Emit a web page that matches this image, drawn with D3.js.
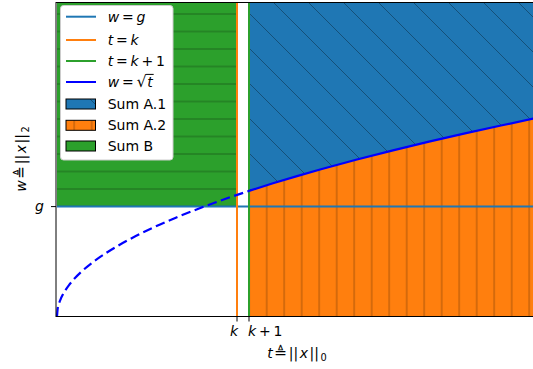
<!DOCTYPE html>
<html><head><meta charset="utf-8">
<script src="https://cdn.jsdelivr.net/npm/d3@7"></script>
<style>body{margin:0;background:#fff} svg{display:block} text{font-family:"DejaVu Sans",sans-serif}</style>
</head><body><svg id="c" width="533" height="369"></svg>
<script>
// ---- data ----
const tValues = [0,0.05,0.15,0.3,0.5,0.75,1,1.5,2,3,4,5,6,8,10,12,14,16,18,20,22,25,28,31,34,37,40];
const wValues = [0,0.224,0.387,0.548,0.707,0.866,1,1.225,1.414,1.732,2,2.236,2.449,2.828,3.162,3.464,3.742,4,4.243,4.472,4.690,5,5.292,5.568,5.831,6.083,6.325];
const kValue = 15;
const kPlusOne = 16;
const gValue = 3.5;
const tDomain = [0, 40];
const wDomain = [0, 10];
const xTickValues = [15, 16];
const xTickLabels = ["k", "k + 1"];
const yTickValues = [3.5];
const yTickLabels = ["g"];
const legendLabels = ["w = g", "t = k", "t = k + 1", "w = √t", "Sum A.1", "Sum A.2", "Sum B"];

// ---- setup ----
const C0 = "#1f77b4", C1 = "#ff7f0e", C2 = "#2ca02c", B = "#0000ff";
const svg = d3.select("#c");
const x = d3.scaleLinear(tDomain, [57, 537]);
const y = d3.scaleLinear(wDomain, [316.5, 2.5]);
const pts = tValues.map((t, i) => ({t, w: wValues[i]}));
const right = pts.filter(p => p.t >= kPlusOne);
const leftPts = pts.filter(p => p.t <= kPlusOne);

const hatchColor = "rgba(0,0,0,0.33)";
const defs = svg.append("defs");
const pD = defs.append("pattern").attr("id","hD").attr("patternUnits","userSpaceOnUse")
  .attr("x",0).attr("y",9).attr("width",35).attr("height",35);
pD.append("path").attr("d","M-1,-1L36,36M-1,34L1,36M34,-1L36,1").attr("stroke",hatchColor).attr("stroke-width",1).attr("fill","none");
const pV = defs.append("pattern").attr("id","hV").attr("patternUnits","userSpaceOnUse")
  .attr("x",4.2-8.75).attr("y",0).attr("width",17.5).attr("height",10);
pV.append("path").attr("d","M8.75,-1L8.75,11").attr("stroke",hatchColor).attr("stroke-width",1);
const pH = defs.append("pattern").attr("id","hH").attr("patternUnits","userSpaceOnUse")
  .attr("x",0).attr("y",14-8.75).attr("width",10).attr("height",17.5);
pH.append("path").attr("d","M-1,8.75L11,8.75").attr("stroke",hatchColor).attr("stroke-width",1);

// ---- fills ----
const areaTop = d3.area().curve(d3.curveMonotoneX).x(d => x(d.t)).y0(d => y(d.w)).y1(y(wDomain[1]));
const areaBot = d3.area().curve(d3.curveMonotoneX).x(d => x(d.t)).y0(y(0)).y1(d => y(d.w));
const greenData = [{t: tDomain[0]}, {t: kValue}];
const areaGreen = d3.area().x(d => x(d.t)).y0(y(gValue)).y1(y(wDomain[1]));

[[areaTop(right), C0, "hD"], [areaBot(right), C1, "hV"], [areaGreen(greenData), C2, "hH"]].forEach(([d, c, h]) => {
  svg.append("path").attr("d", d).attr("fill", c);
  svg.append("path").attr("d", d).attr("fill", `url(#${h})`);
});

// ---- lines ----
svg.append("line").attr("x1", x(tDomain[0])).attr("x2", x(tDomain[1])).attr("y1", y(gValue)).attr("y2", y(gValue))
  .attr("stroke", C0).attr("stroke-width", 2);
svg.append("line").attr("x1", x(kValue)).attr("x2", x(kValue)).attr("y1", y(0)).attr("y2", y(wDomain[1]))
  .attr("stroke", C1).attr("stroke-width", 2);
svg.append("line").attr("x1", x(kPlusOne)).attr("x2", x(kPlusOne)).attr("y1", y(0)).attr("y2", y(wDomain[1]))
  .attr("stroke", C2).attr("stroke-width", 2);
const line = d3.line().curve(d3.curveMonotoneX).x(d => x(d.t)).y(d => y(d.w));
svg.append("path").attr("d", line(leftPts)).attr("fill","none").attr("stroke",B).attr("stroke-width",2.2).attr("stroke-dasharray","9.5,4.5");
svg.append("path").attr("d", line(right)).attr("fill","none").attr("stroke",B).attr("stroke-width",2.2);

// ---- math text helper ----
// '_' -> next char subscript; '~' -> small extra gap (dx)
function addMath(sel, str) {
  let sub = false, gap = 0;
  for (let i = 0; i < str.length; i++) {
    let c = str[i];
    if (c === "_") { sub = true; continue; }
    if (c === "~") { gap += 1.5; continue; }
    const ts = sel.append("tspan");
    if (/[a-zA-Z]/.test(c)) ts.attr("font-style", "italic");
    if (c === "≜") ts.attr("font-size", 15.5);
    if (c === " ") c = "\u2009";
    if (gap) { ts.attr("dx", gap); gap = 0; }
    if (sub) { ts.attr("font-size", "70%").attr("dy", 3); sub = false; }
    ts.text(c);
  }
}

// ---- spines ----
svg.append("line").attr("x1",56).attr("x2",56).attr("y1",2).attr("y2",317).attr("stroke","#000").attr("stroke-width",1);
svg.append("line").attr("x1",56).attr("x2",537).attr("y1",316.5).attr("y2",316.5).attr("stroke","#000").attr("stroke-width",1);
svg.append("line").attr("x1",56).attr("x2",537).attr("y1",2.5).attr("y2",2.5).attr("stroke","#000").attr("stroke-width",1);

// ---- axes ----
const gx = svg.append("g").attr("transform","translate(0,316.5)")
  .call(d3.axisBottom(x).tickValues(xTickValues).tickSize(5).tickPadding(5).offset(0));
gx.select(".domain").remove();
gx.selectAll("text").each(function(d, i) {
  const s = d3.select(this).text(null).attr("font-size", 14).attr("font-family", "DejaVu Sans")
    .attr("text-anchor", i === 0 ? "end" : "start").attr("x", i === 0 ? 1 : -1);
  addMath(s, xTickLabels[i]);
});
const gy = svg.append("g").attr("transform","translate(56,0)")
  .call(d3.axisLeft(y).tickValues(yTickValues).tickSize(5).tickPadding(7).offset(0));
gy.select(".domain").remove();
gy.selectAll("text").each(function(d, i) {
  const s = d3.select(this).text(null).attr("font-size", 14).attr("font-family", "DejaVu Sans");
  addMath(s, yTickLabels[i]);
});

// axis labels
const xl = svg.append("text").attr("x", 297).attr("y", 358).attr("text-anchor","middle").attr("font-size",14);
addMath(xl, "t~≜~||~x~||~_0");
const yl = svg.append("text").attr("transform","translate(25.5,159) rotate(-90)").attr("text-anchor","middle").attr("font-size",14);
addMath(yl, "w~≜~||~x~||~_2");

// ---- legend ----
const lg = svg.append("g");
lg.append("rect").attr("x",60.5).attr("y",5.5).attr("width",112.5).attr("height",154.5).attr("rx",3)
  .attr("fill","#fff").attr("stroke","#cccccc").attr("stroke-width",1);
const rowY = [16.7, 40, 61, 82, 104, 125.3, 146];
const handles = [
  {type:"line", c:C0}, {type:"line", c:C1}, {type:"line", c:C2}, {type:"line", c:B},
  {type:"patch", c:C0, h:"hD"}, {type:"patch", c:C1, h:"hV"}, {type:"patch", c:C2, h:"hH"}
];
legendLabels.forEach((lab, i) => {
  const cy = rowY[i], hd = handles[i];
  if (hd.type === "line") {
    lg.append("line").attr("x1",66).attr("x2",96).attr("y1",cy).attr("y2",cy).attr("stroke",hd.c).attr("stroke-width",2);
  } else {
    lg.append("rect").attr("x",66).attr("y",cy-5).attr("width",29.5).attr("height",10).attr("fill",hd.c);
    lg.append("rect").attr("x",66).attr("y",cy-5).attr("width",29.5).attr("height",10).attr("fill",`url(#${hd.h})`)
      .attr("stroke","#000").attr("stroke-width",1);
  }
  const t = lg.append("text").attr("x",107.7).attr("y",cy+4.8).attr("font-size",14);
  if (i < 4) {
    if (lab.includes("√")) {
      addMath(t, "w = ");
      t.append("tspan").text("√").attr("font-size", 16);
      const L = t.node().getComputedTextLength();
      const tt = lg.append("text").attr("x",107.7+L+0.5).attr("y",cy+4.8).attr("font-size",14).attr("font-style","italic").text("t");
      const tw = tt.node().getComputedTextLength();
      lg.append("line").attr("x1",107.7+L-0.5).attr("x2",107.7+L+tw+1.5).attr("y1",cy-7.6).attr("y2",cy-7.6)
        .attr("stroke","#000").attr("stroke-width",1);
    } else addMath(t, lab);
  } else t.text(lab);
});
</script></body></html>
